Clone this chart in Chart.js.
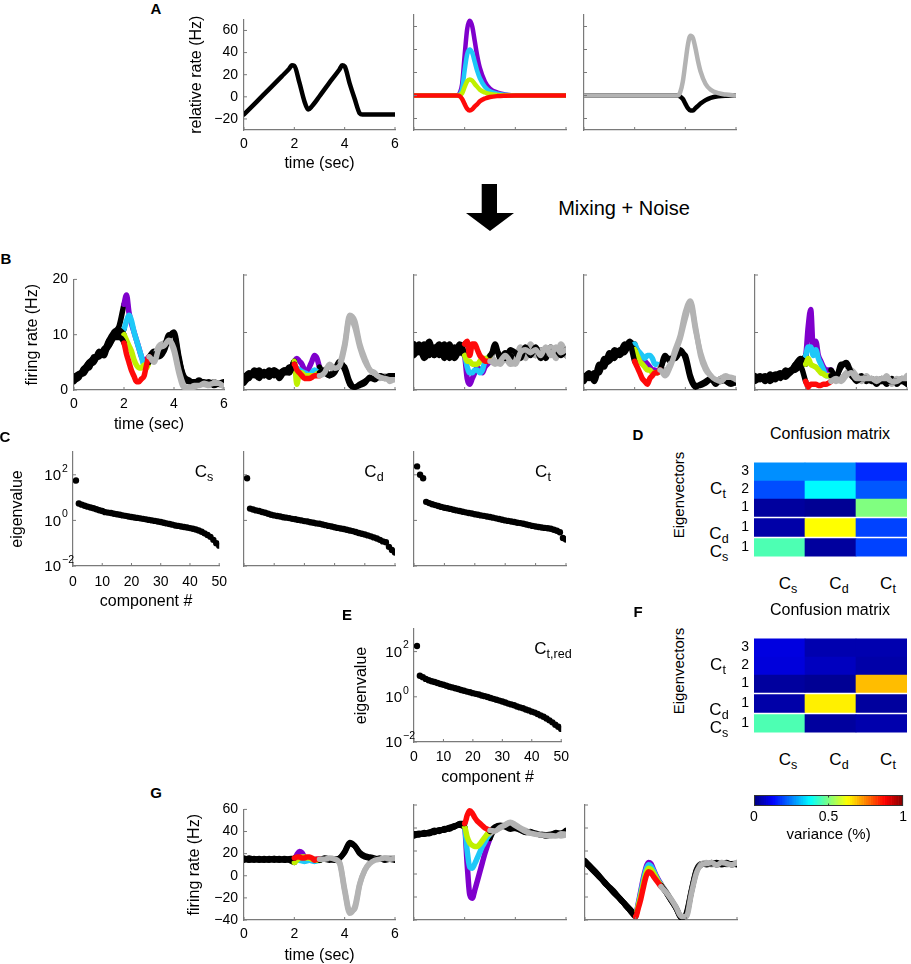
<!DOCTYPE html>
<html>
<head>
<meta charset="utf-8">
<script src="https://cdn.jsdelivr.net/npm/chart.js@4.4.1/dist/chart.umd.min.js"></script>
<style>
  body { margin: 0; background: #fff; width: 911px; height: 964px; overflow: hidden; position: relative;
         font-family: "Liberation Sans", Arial, Helvetica, sans-serif; }
  canvas { position: absolute; }
  .t { position: absolute; white-space: nowrap; transform: translate(-50%, -50%); color: #000; line-height: 1; }
  .t sub { font-size: 0.74em; position: relative; top: 0.32em; vertical-align: baseline; line-height: 0; }
  .lbl { font-weight: bold; }
</style>
</head>
<body>
<svg style="position:absolute;left:460px;top:180px" width="60" height="56">
  <path d="M21.7 4 H37 V33 H54 L30 51 L6 33 H21.7 Z" fill="#000"/>
</svg>
<script>
// ---------------- data ----------------
// A: model components (relative rate, Hz)
const tRamp = [0,0.5,1,1.5,1.8,1.9,2,2.2,2.4,2.55,2.7,3,3.5,3.8,3.9,4,4.2,4.4,4.6,4.7,5,6];
const aRamp = [-16,-4.5,7,18.5,25.5,28.5,28,13,-4,-11.5,-8.5,0.5,16,25,28.5,27.5,12,-2,-15,-16,-16,-16];
const tStim = [0,1.7,1.8,1.9,2,2.1,2.2,2.3,2.4,2.5,2.6,2.8,3,3.3,3.6,4,6];
const aPurple = [0,0,2,10,35,58,65,60,47,34,24,12,6,2.5,1,0,0];
const aCyan = [0,0,1,6,22,36,40,37,29,21,15,7.5,3.7,1.5,0.6,0,0];
const aYellow = [0,0,0.5,2,7.5,12.5,14,13,10,7.5,5,2.6,1.3,0.5,0.2,0,0];
const aRed = [0,0,-0.5,-3,-7.5,-11.5,-13,-12,-9.5,-7.5,-5,-2.6,-1.3,-0.5,-0.2,0,0];
const tDec = [0,3.7,3.8,3.9,4,4.1,4.2,4.3,4.4,4.5,4.6,4.8,5,5.3,5.6,6];
const aGray = [0,0,3,12,28,44,52,50,41,30,21,10,5,2,0.8,0];
const aBlack = [0,0,-1,-3,-7,-11,-13,-13,-11,-9,-7,-4,-2,-0.7,-0.2,0];

// B and G: trial traces (firing rate, Hz) sampled on tTrial
const tTrial = [0,0.2,0.4,0.6,0.8,1,1.2,1.4,1.6,1.8,2,2.1,2.2,2.3,2.4,2.5,2.6,2.7,2.8,2.9,3,3.2,3.4,3.6,3.8,4,4.2,4.4,4.6,4.8,5,5.2,5.4,5.6,5.8,6];

const b1Purple = [2.2,3,3.3,5,5.2,7,6.2,9,10.5,11.5, 15.5,17.2,14,12,10.5,9,7.5,6,5,5.5,6, 7,6,7,9.5,10.5,6,2,1.5,1.5,1.5,1.5,1,1.5,1,1];
const b1Cyan = [1.8,2.2,4,4,6,6,7.5,8,9.5,10, 11,12.5,13.5,12.5,10.5,9,7.5,6,4.5,4.5,5, 6,8,8.5,9,7,3,0.5,0.5,0.5,1,1,0.8,1.5,1,0.8];
const b1Yellow = [2.5,2.8,3,4.5,5,6.5,6.8,8,9.8,10.8, 10,9,8,7,5.5,4.5,4,4,4.5,4,5, 6.5,6.5,7.5,10,10,5.5,2.5,1.8,1.2,1.8,1.2,1.5,0.8,1.2,1.5];
const b1Red = [1.5,2.5,3.8,5,5.8,6,7,9,9.5,9.5, 8.5,6.5,5,3.5,2.5,1.5,1.5,2,2.5,4.5,6, 5,7.5,8,9,7.5,3.5,0.8,0.3,0.8,0.8,1.2,1,1.2,1.2,0.6];

const b2Purple = [1.5,2.5,3,2.5,3,2.5,3,2.5,3.5,3.5, 5,5.5,5,4.5,3.5,3,4,5,6,5.5,4, 3,2.5,3.5,5,3.5,1,0.5,1,1.5,2,2,2.5,2,2.5,2];
const b2Cyan = [2.5,2,3.5,3,2.5,3.5,2.5,3,3,4, 4,3.8,3.5,3.2,3,2.8,2.5,3,3.5,3.2,3, 3.5,4,3.5,4.5,8,13,12,8,5.5,3.5,3,2,2.5,1.5,2];
const b2Yellow = [2,3,2.5,3.5,2.5,3,3.5,2,3,3, 5,1,3,3,2.5,2.5,2.5,2.5,2.5,2.8,3, 3.5,2.5,3,4.5,4,1.5,0.5,0.8,1.2,2.2,1.8,2.5,2.2,2.5,2.5];
const b2Red = [1.2,2.2,2.8,2,3.2,2.2,3.5,3,3.5,3, 4.5,3.5,3,2.5,2,2,2,2.2,2.5,2.5,2.5, 3,4.5,3.8,4.2,7.5,12.5,11,7.5,5,3.5,2.8,2.2,2,1.8,1.8];

const b3Purple = [7,8,6,7,6,7.5,5.5,7,6,8, 6,2,1,2,3,4,3.5,3,4,4.5,5, 8,5.5,6.5,6,5.5,7,6,7.5,6,7,5.5,7.5,6,7,6];
const b3Cyan = [6,7,8,6,7.5,6,7,5.5,7.5,6.5, 6,4,3,3,3.5,3.5,3,3.5,5,5.5,6, 5,4.5,5.5,4.5,5,7.5,5.5,8,6,7,6.5,7.5,5.5,8,6];
const b3Yellow = [8,6.5,7,8.5,6,7,8,6,7,7, 6,5,5,4.5,4.5,4.5,5,5.5,5.5,5.5,6, 7,6,5.5,7,6.5,5.5,7.5,6,7.5,5.5,6.5,6.5,7,6,7];
const b3Red = [6.5,7.5,5.5,6.5,7,8,6,8,5.5,7, 8,8.5,6,8,8,7,6,5.5,5,5,5, 4.5,5,6,5,4.5,6.5,7,6.5,7,6,7.5,6,7.5,6.5,7];

const b4Purple = [2,3,1.5,4,5,6,6.5,6,7,8.5, 7.5,7,6,5.5,5,4.5,4,3.5,3.5,3,3.5, 6,5,6,7,5.5,2,0.5,1,1.5,2,1,2,1.5,1,1.5];
const b4Cyan = [1.5,2.5,2.5,3.5,4.5,5,6,6.5,7.5,8, 8,7,6.5,6,5.5,6,6,5.5,4.5,4.5,4, 3.5,4.5,7,9.5,13.5,15.5,11,6,3.5,2.5,1.5,2,2.5,2,2];
const b4Yellow = [2.5,2,3,3,5.5,5.5,7,6.5,8,7.5, 7,6,5,4.5,4,3.5,3.5,3,3,3,3.5, 5.5,5.5,5.5,6.5,6,2.5,0.8,0.8,1.2,1.8,1.5,1.5,1.8,1.2,1.2];
const b4Red = [2,2.5,2,4.5,4,6.5,5.5,7,6.5,8, 5,4,3,2,1.5,1,2,2.5,3,3,3.5, 2.5,4,6.5,9,12.5,15,10.5,6.5,4,2.5,1.8,1.5,2.2,2.2,1.8];

const b5Purple = [2,2.5,1.5,2.5,2,2.5,3,3.5,4,5, 6,11,14,7,8.5,6,5,4,3.5,3.5,3.5, 2,4.5,4.5,2.5,2,2.5,1.5,2,1,2,1,2,1,2,1.5];
const b5Cyan = [1.5,2,2.5,1.5,2.5,3,2.5,3,4.5,4.5, 6,7.5,7.5,6,7,5.5,4.5,3.5,2.5,2.5,2.5, 1.5,2,3,3.5,2.5,1.5,2.5,1.5,2,1.5,2.5,1,2,1.5,2.5];
const b5Yellow = [2.5,1.8,2.2,2,2.8,2,3.5,3,4.5,5.5, 4.5,5.5,4.5,4.2,4,3.5,3,2.8,2.5,2.5,2.5, 2.5,4,4.8,3,1.5,2,2,1.5,1.5,1.5,1.5,1.5,1.5,1.5,1];
const b5Red = [1.8,2.2,1.8,2.8,1.8,2.8,2.2,3.2,3.5,4, 1.5,0.5,1,1,1,0.8,0.8,1,1,1.2,1.5, 2,1.5,2.5,3,2,2,2,2,1.5,2,2,1.5,1.5,2,2];

const g1Purple = [16,14.5,15,14,15.5,14,15,14.5,15,15, 15,19,22,21,17,16,16,15.5,15,15,15, 15,14,15,16,21,29,27,21,18,17,16,15,15,15,14];
const g1Cyan = [15,15.5,14,15,14.5,15.5,14,15.5,14,14.5, 14,14.5,14,13.5,13,13.5,14,13.5,13,13.5,14, 16,15,14,12,-12,-32,-30,-8,5,12,15,15,16,16,16];
const g1Yellow = [14,16,15,15.5,14,15,15.5,14,15.5,14, 12,14,16,17,17,16,16,15,15,14,14, 16,15,14,16,22,30,27,20,17,16,15,16,14,15,15];
const g1Red = [15.5,14,15.5,14.5,15,14.5,15.5,15,14.5,15.5, 16,17,17,16,16,17,17,16,14,15,15, 15,16,15,11,-14,-34,-28,-7,5,11,14,15,16,15,16];

const g2Purple = [33,34.5,35.5,35,37.5,37,39.5,39,41.5,43, 40,8,-18,-21,-14,-6,2,10,18,25,31, 40,42,41,39,40,38,36,37,35,35,33,34,36,35,38];
const g2Cyan = [34,35,34.5,36.5,36,38.5,38,40.5,41,43.5, 40,20,6,5,9,14,19,24,28,32,35, 38,40,43,45,43,40,38,36,35,35,34,33,34,33,34];
const g2Yellow = [35,34,36,35.5,37,38,38.5,40,42,42.5, 41,32,27,25,24,24,26,29,32,35,37, 41,42.5,41.5,40,39.5,38.5,36.5,36,35.5,34,34,34.5,35,35.5,37];
const g2Red = [34.5,35.5,35,36,38,37.5,39,40.5,41,44, 44,51,55,53,49,46,44,42,40,39,38, 37.5,40.5,42.5,44.5,42,39.5,37,35.5,34.5,34,33.5,33.5,33,35,34.5];

const g3Purple = [11,6.5,2,-3,-8,-12.5,-17,-22,-27,-31.5, -35,-26,-15,-4,5,10,9,4,-1,-5,-9, -16,-23,-30,-38,-34,-14,4,9,8,10,8,9,10,8,9];
const g3Cyan = [10,6,1.5,-3.5,-7.5,-13,-17.5,-21.5,-27.5,-32, -35,-27,-17,-6,3,8,7,3,-2,-6,-9, -15,-22,-29,-37,-36,-16,2,9,10,8,9,10,8,9,10];
const g3Yellow = [11.5,7,2.5,-2.5,-8.5,-12,-16.5,-22.5,-26.5,-31, -36,-28,-19,-9,0,5,4,1,-3,-7,-10, -16,-23,-30,-38,-35,-15,3,8,9,9,10,8,9,9,8];
const g3Red = [10.5,5.5,1,-3,-8,-13,-18,-22,-26.5,-32.5, -37,-30,-22,-12,-3,2,1,-2,-5,-8,-11, -16,-22,-29,-37,-37,-17,1,8,9,10,8,10,9,8,10];

// C, E: eigenvalue spectra
const compNum = [1,2,3,4,5,6,7,8,9,10,11,12,13,14,15,16,17,18,19,20,21,22,23,24,25,
                 26,27,28,29,30,31,32,33,34,35,36,37,38,39,40,41,42,43,44,45,46,47,48,49,50];
const eigCs = [56,5.5,4.9,4.4,4.0,3.7,3.4,3.1,2.8,2.6, 2.3,2.2,2.1,1.95,1.86,1.78,1.66,1.58,1.48,1.41,
               1.35,1.29,1.23,1.17,1.11,1.05,1.0,0.95,0.89,0.85, 0.79,0.74,0.69,0.65,0.60,0.575,0.54,0.51,0.49,0.46,
               0.43,0.40,0.36,0.32,0.27,0.23,0.19,0.14,0.10,0.078];
const eigCd = [71,3.3,3.0,2.75,2.6,2.35,2.15,1.95,1.78,1.66, 1.55,1.48,1.38,1.32,1.26,1.17,1.12,1.05,1.0,0.93,
               0.89,0.83,0.79,0.74,0.71,0.66,0.62,0.575,0.54,0.50, 0.47,0.44,0.42,0.39,0.36,0.34,0.31,0.28,0.26,0.24,
               0.22,0.20,0.18,0.16,0.14,0.12,0.11,0.069,0.05,0.039];
const eigCt = [234,100,71,6.5,5.75,5.1,4.7,4.3,3.9,3.6, 3.4,3.2,2.95,2.75,2.6,2.4,2.25,2.1,2.0,1.86,
               1.78,1.66,1.58,1.48,1.41,1.32,1.23,1.15,1.07,1.0, 0.95,0.89,0.85,0.79,0.76,0.71,0.66,0.62,0.575,0.54,
               0.51,0.49,0.47,0.45,0.43,0.39,0.35,0.30,0.17,0.145];
const eigCtRed = [178,8.5,7.4,6.2,5.4,4.9,4.5,4.1,3.7,3.4, 3.1,2.8,2.6,2.4,2.2,2.0,1.86,1.7,1.58,1.45,
                  1.35,1.26,1.15,1.07,0.98,0.89,0.81,0.74,0.68,0.62, 0.56,0.50,0.46,0.42,0.37,0.34,0.31,0.275,0.25,0.22,
                  0.20,0.174,0.15,0.13,0.11,0.091,0.074,0.058,0.047,0.038];
const logTicks = [0.01, 1, 100];
const logTickExp = ['\u22122', '0', '2'];

// D, F: confusion matrices (variance), rows top to bottom, columns Cs Cd Ct
const confCols = ['Cs', 'Cd', 'Ct'];
const confRowLabels = ['3', '2', '1', '1', '1'];
const confD = [
  [0.265, 0.265, 0.165],
  [0.20, 0.37, 0.21],
  [0.03, 0.02, 0.50],
  [0.04, 0.625, 0.19],
  [0.45, 0.03, 0.19]
];
const confF = [
  [0.095, 0.047, 0.047],
  [0.09, 0.062, 0.04],
  [0.03, 0.02, 0.69],
  [0.04, 0.64, 0.03],
  [0.45, 0.03, 0.045]
];

// ---------------- style ----------------
const FONT = '"Liberation Sans", Arial, Helvetica, sans-serif';
const AXIS = '#7a7a7a';
const BLACK = '#000000', GRAY = '#b3b3b3', PURPLE = '#7f00cc', CYAN = '#1ec8f8', YELLOW = '#bff000', RED = '#ff0a0a';
Chart.defaults.font.family = FONT;
Chart.defaults.font.size = 14;
Chart.defaults.color = '#000';

// heatmap row extents on the y scale (white separators between groups)
const rowSpan = [[4.24, 5.24], [3.24, 4.24], [2.24, 3.24], [1.12, 2.12], [0, 1]];

function jet(v) {
  const c = x => Math.round(255 * Math.max(0, Math.min(1, x)));
  const r = c(Math.min(4 * v - 1.5, -4 * v + 4.5));
  const g = c(Math.min(4 * v - 0.5, -4 * v + 3.5));
  const b = c(Math.min(4 * v + 0.5, -4 * v + 2.5));
  return `rgb(${r},${g},${b})`;
}

function fmtTick(v) { return v < 0 ? '\u2212' + Math.abs(v) : String(v); }

function axis(o) {
  return {
    type: o.type || 'linear', min: o.min, max: o.max,
    grid: { display: false, drawTicks: false },
    border: { display: o.border !== false, color: AXIS, width: 1.2 },
    afterBuildTicks: s => { s.ticks = o.ticks.map(v => ({ value: v })); },
    afterFit: s => { if (s.isHorizontal()) s.height = o.size; else s.width = o.size; },
    ticks: { display: !!o.labels, padding: o.pad == null ? 6 : o.pad, autoSkip: false, maxRotation: 0,
             font: { size: 14 }, callback: o.fmt || fmtTick },
    title: { display: !!o.title, text: o.title || '', font: { size: o.titleSize || 16 }, padding: 0 }
  };
}

// small inward tick marks
const inTicks = {
  id: 'inTicks',
  afterDatasetsDraw(chart, args, o) {
    if (!o || !o.len) return;
    const { ctx, chartArea: a, scales } = chart;
    ctx.save();
    ctx.strokeStyle = AXIS; ctx.lineWidth = 1;
    ctx.beginPath();
    (o.x || []).forEach(v => { const p = scales.x.getPixelForValue(v); ctx.moveTo(p, a.bottom); ctx.lineTo(p, a.bottom - o.len); });
    (o.y || []).forEach(v => { const p = scales.y.getPixelForValue(v); ctx.moveTo(a.left, p); ctx.lineTo(a.left + o.len, p); });
    ctx.stroke();
    ctx.restore();
  }
};

// 10^n tick labels for the log axes
const logLabels = {
  id: 'logLabels',
  afterDraw(chart, args, o) {
    if (!o || !o.show) return;
    const { ctx, chartArea: a } = chart;
    ctx.save();
    ctx.fillStyle = '#000'; ctx.textBaseline = 'middle';
    logTicks.forEach((v, i) => {
      const p = chart.scales.y.getPixelForValue(v);
      ctx.font = '15px ' + FONT; ctx.textAlign = 'right';
      ctx.fillText('10', a.left - 12, p + 1);
      ctx.font = '10.5px ' + FONT; ctx.textAlign = 'left';
      ctx.fillText(logTickExp[i], a.left - 11, p - 6);
    });
    ctx.restore();
  }
};

// colorbar outline and mid ticks
const cbFrame = {
  id: 'cbFrame',
  afterDraw(chart) {
    const { ctx, chartArea: a } = chart;
    const m = chart.scales.x.getPixelForValue(0.5);
    ctx.save();
    ctx.strokeStyle = '#333'; ctx.lineWidth = 1;
    ctx.strokeRect(a.left + 0.5, a.top + 0.5, a.right - a.left - 1, a.bottom - a.top - 1);
    ctx.beginPath();
    ctx.moveTo(m, a.top); ctx.lineTo(m, a.top + 2.5);
    ctx.moveTo(m, a.bottom); ctx.lineTo(m, a.bottom - 2.5);
    ctx.stroke();
    ctx.restore();
  }
};

function plot(r, pad, cfg) {
  const c = document.createElement('canvas');
  c.width = pad.l + r.w + pad.r;
  c.height = pad.t + r.h + pad.b;
  c.style.left = (r.x - pad.l) + 'px';
  c.style.top = (r.y - pad.t) + 'px';
  document.body.appendChild(c);
  const opts = cfg.options || {};
  opts.responsive = false;
  opts.animation = false;
  opts.events = [];
  opts.layout = { padding: { top: pad.t, right: pad.r, left: pad.pl || 0, bottom: pad.pb || 0 } };
  opts.plugins = Object.assign({ legend: { display: false }, tooltip: { enabled: false } }, opts.plugins || {});
  cfg.options = opts;
  cfg.plugins = [inTicks, logLabels, ...(cfg.plugins || [])];
  return new Chart(c, cfg);
}

function curve(times, values, color, width) {
  return {
    data: times.map((t, i) => ({ x: t, y: values[i] })),
    borderColor: color, borderWidth: width, pointRadius: 0,
    cubicInterpolationMode: 'monotone', borderCapStyle: 'round', borderJoinStyle: 'round'
  };
}

// trial trace: black before 2 s, stimulus colour 2-3 s, decision colour after 3 s
function trace(values, stimColor, lateColor, width) {
  const d = curve(tTrial, values, BLACK, width);
  d.segment = { borderColor: ctx => {
    const x0 = ctx.p0.parsed.x;
    return x0 < 2 ? BLACK : (x0 < 3 ? stimColor : lateColor);
  } };
  return d;
}

// first dataset is drawn on top
function tracePlot(r, pad, traces, ymin, ymax, yticks, first, width) {
  const ds = [
    trace(traces[3], RED, GRAY, width),
    trace(traces[2], YELLOW, BLACK, width),
    trace(traces[1], CYAN, GRAY, width),
    trace(traces[0], PURPLE, BLACK, width)
  ];
  return plot(r, pad, {
    type: 'line', data: { datasets: ds },
    options: {
      scales: {
        x: axis({ min: 0, max: 6, ticks: [0, 2, 4, 6], labels: first, size: pad.b, title: first ? 'time (sec)' : '' }),
        y: axis({ min: ymin, max: ymax, ticks: yticks, labels: first, size: pad.l, title: first ? 'firing rate (Hz)' : '' })
      },
      plugins: { inTicks: { len: 3, x: [0, 2, 4, 6], y: yticks } }
    }
  });
}

function eigPlot(r, pad, values, first) {
  return plot(r, pad, {
    type: 'scatter',
    data: { datasets: [{ data: compNum.map((c, i) => ({ x: c, y: values[i] })),
                         pointRadius: 3.2, pointBackgroundColor: '#000', pointBorderWidth: 0 }] },
    options: {
      scales: {
        x: axis({ min: 0, max: 50, ticks: [0, 10, 20, 30, 40, 50], labels: first, size: pad.b,
                  pad: pad.tp, title: first ? 'component #' : '' }),
        y: axis({ type: 'logarithmic', min: 0.01, max: 1000, ticks: logTicks, labels: false, size: pad.l,
                  title: first ? 'eigenvalue' : '' })
      },
      plugins: { inTicks: { len: 3, x: [0, 10, 20, 30, 40, 50], y: logTicks }, logLabels: { show: first } }
    }
  });
}

function confPlot(r, pad, values) {
  const centers = rowSpan.map(s => (s[0] + s[1]) / 2).reverse();
  const labels = confRowLabels.slice().reverse();
  return plot(r, pad, {
    type: 'bar',
    data: { labels: confCols, datasets: values.map((row, i) => ({
      data: row.map(() => rowSpan[i]), backgroundColor: row.map(jet),
      grouped: false, barPercentage: 1, categoryPercentage: 1, borderWidth: 0 })) },
    options: {
      scales: {
        x: { display: false, offset: true },
        y: {
          min: 0, max: 5.24,
          grid: { display: false, drawTicks: false }, border: { display: false },
          afterBuildTicks: s => { s.ticks = centers.map(v => ({ value: v })); },
          afterFit: s => { s.width = pad.l; },
          ticks: { padding: 5, font: { size: 14 }, autoSkip: false, callback: (v, i) => labels[i] }
        }
      }
    }
  });
}

// ---------------- panel A ----------------
plot({ x: 244, y: 15, w: 151, h: 115 }, { l: 57, t: 10, r: 10, b: 43 }, {
  type: 'line', data: { datasets: [curve(tRamp, aRamp, BLACK, 4.5)] },
  options: {
    scales: {
      x: axis({ min: 0, max: 6, ticks: [0, 2, 4, 6], labels: true, pad: 6, size: 43, title: 'time (sec)' }),
      y: axis({ min: -30, max: 70, ticks: [-20, 0, 20, 40, 60], labels: true, size: 57, title: 'relative rate (Hz)' })
    },
    plugins: { inTicks: { len: 3, x: [0, 2, 4, 6], y: [-20, 0, 20, 40, 60] } }
  }
});
plot({ x: 414, y: 15, w: 152, h: 115 }, { l: 4, t: 10, r: 10, b: 6 }, {
  type: 'line',
  data: { datasets: [curve(tStim, aRed, RED, 4.5), curve(tStim, aYellow, YELLOW, 4.5),
                     curve(tStim, aCyan, CYAN, 4.5), curve(tStim, aPurple, PURPLE, 4.5)] },
  options: {
    scales: {
      x: axis({ min: 0, max: 6, ticks: [0, 2, 4, 6], size: 6 }),
      y: axis({ min: -30, max: 70, ticks: [-20, 0, 20, 40, 60], size: 4 })
    },
    plugins: { inTicks: { len: 3, x: [0, 2, 4, 6], y: [-20, 0, 20, 40, 60] } }
  }
});
plot({ x: 584, y: 15, w: 152, h: 115 }, { l: 4, t: 10, r: 10, b: 6 }, {
  type: 'line',
  data: { datasets: [curve(tDec, aGray, GRAY, 4.5), curve(tDec, aBlack, BLACK, 4.5)] },
  options: {
    scales: {
      x: axis({ min: 0, max: 6, ticks: [0, 2, 4, 6], size: 6 }),
      y: axis({ min: -30, max: 70, ticks: [-20, 0, 20, 40, 60], size: 4 })
    },
    plugins: { inTicks: { len: 3, x: [0, 2, 4, 6], y: [-20, 0, 20, 40, 60] } }
  }
});

// ---------------- panel B ----------------
const bTicks = [0, 10, 20];
tracePlot({ x: 74, y: 275, w: 150, h: 115 }, { l: 51, t: 10, r: 10, b: 44 }, [b1Purple, b1Cyan, b1Yellow, b1Red], 0, 20, bTicks, true, 5.5);
tracePlot({ x: 244, y: 275, w: 151, h: 115 }, { l: 4, t: 10, r: 10, b: 6 }, [b2Purple, b2Cyan, b2Yellow, b2Red], 0, 20, bTicks, false, 5.5);
tracePlot({ x: 414, y: 275, w: 152, h: 115 }, { l: 4, t: 10, r: 10, b: 6 }, [b3Purple, b3Cyan, b3Yellow, b3Red], 0, 20, bTicks, false, 5.5);
tracePlot({ x: 584, y: 275, w: 152, h: 115 }, { l: 4, t: 10, r: 10, b: 6 }, [b4Purple, b4Cyan, b4Yellow, b4Red], 0, 20, bTicks, false, 5.5);
tracePlot({ x: 755, y: 275, w: 152, h: 115 }, { l: 4, t: 10, r: 4, b: 6 }, [b5Purple, b5Cyan, b5Yellow, b5Red], 0, 20, bTicks, false, 5.5);

// ---------------- panels C and E ----------------
eigPlot({ x: 73, y: 452, w: 152, h: 114 }, { l: 65, t: 10, r: 10, b: 45, tp: 8 }, eigCs, true);
eigPlot({ x: 244, y: 452, w: 151, h: 114 }, { l: 4, t: 10, r: 10, b: 6 }, eigCd, false);
eigPlot({ x: 414, y: 452, w: 152, h: 114 }, { l: 4, t: 10, r: 10, b: 6 }, eigCt, false);
eigPlot({ x: 414, y: 629, w: 152, h: 113 }, { l: 62, t: 10, r: 10, b: 45, tp: 7 }, eigCtRed, true);

// ---------------- panels D and F ----------------
confPlot({ x: 754, y: 452, w: 153, h: 115 }, { l: 14, t: 3, r: 3, b: 3, pb: 3 }, confD);
confPlot({ x: 754, y: 628, w: 153, h: 115 }, { l: 14, t: 3, r: 3, b: 3, pb: 3 }, confF);

// colorbar
const cbLevels = [];
for (let i = 0; i < 64; i++) cbLevels.push(i / 64);
plot({ x: 754, y: 795, w: 153, h: 11 }, { l: 10, pl: 10, t: 3, r: 3, b: 38 }, {
  type: 'bar',
  data: { labels: ['v'], datasets: cbLevels.map(l => ({
    data: [[l, l + 1 / 64]], backgroundColor: jet(l + 0.5 / 64),
    grouped: false, barPercentage: 1, categoryPercentage: 1, borderWidth: 0 })) },
  options: {
    indexAxis: 'y',
    scales: {
      y: { display: false },
      x: axis({ min: 0, max: 1, ticks: [0, 0.5, 1], labels: true, pad: 3, size: 38, border: false,
                title: 'variance (%)', titleSize: 15 })
    }
  },
  plugins: [cbFrame]
});

// ---------------- panel G ----------------
const gTicks = [-40, -20, 0, 20, 40, 60];
tracePlot({ x: 244, y: 805, w: 151, h: 115 }, { l: 59, t: 10, r: 10, b: 45 }, [g1Purple, g1Cyan, g1Yellow, g1Red], -40, 60, gTicks, true, 5.5);
tracePlot({ x: 414, y: 805, w: 152, h: 115 }, { l: 4, t: 10, r: 10, b: 6 }, [g2Purple, g2Cyan, g2Yellow, g2Red], -40, 60, gTicks, false, 5.5);
tracePlot({ x: 585, y: 805, w: 152, h: 115 }, { l: 4, t: 10, r: 10, b: 6 }, [g3Purple, g3Cyan, g3Yellow, g3Red], -40, 60, gTicks, false, 5.5);

// ---------------- text annotations ----------------
function txt(x, y, html, size, cls, extra) {
  const d = document.createElement('div');
  d.className = 't' + (cls ? ' ' + cls : '');
  d.style.left = x + 'px';
  d.style.top = y + 'px';
  d.style.fontSize = size + 'px';
  if (extra) d.style.transform = extra;
  d.innerHTML = html;
  document.body.appendChild(d);
}

txt(156, 8, 'A', 15, 'lbl');
txt(6, 258, 'B', 15, 'lbl');
txt(5, 436, 'C', 15, 'lbl');
txt(638, 434, 'D', 15, 'lbl');
txt(347, 614, 'E', 15, 'lbl');
txt(638, 611, 'F', 15, 'lbl');
txt(156, 792, 'G', 15, 'lbl');

txt(624, 208, 'Mixing + Noise', 20);

txt(204, 471, 'C<sub>s</sub>', 17);
txt(374, 471, 'C<sub>d</sub>', 17);
txt(543, 471, 'C<sub>t</sub>', 17);
txt(553, 648, 'C<sub>t,red</sub>', 17);

[0, 176].forEach(dy => {
  txt(830, 434 + dy, 'Confusion matrix', 16);
  txt(678, 495 + dy, 'Eigenvectors', 15, '', 'translate(-50%,-50%) rotate(-90deg)');
  txt(718, 488 + dy, 'C<sub>t</sub>', 17);
  txt(719, 533 + dy, 'C<sub>d</sub>', 17);
  txt(719, 551 + dy, 'C<sub>s</sub>', 17);
  txt(788, 583 + dy, 'C<sub>s</sub>', 17);
  txt(839, 583 + dy, 'C<sub>d</sub>', 17);
  txt(888, 583 + dy, 'C<sub>t</sub>', 17);
});
</script>
</body>
</html>
